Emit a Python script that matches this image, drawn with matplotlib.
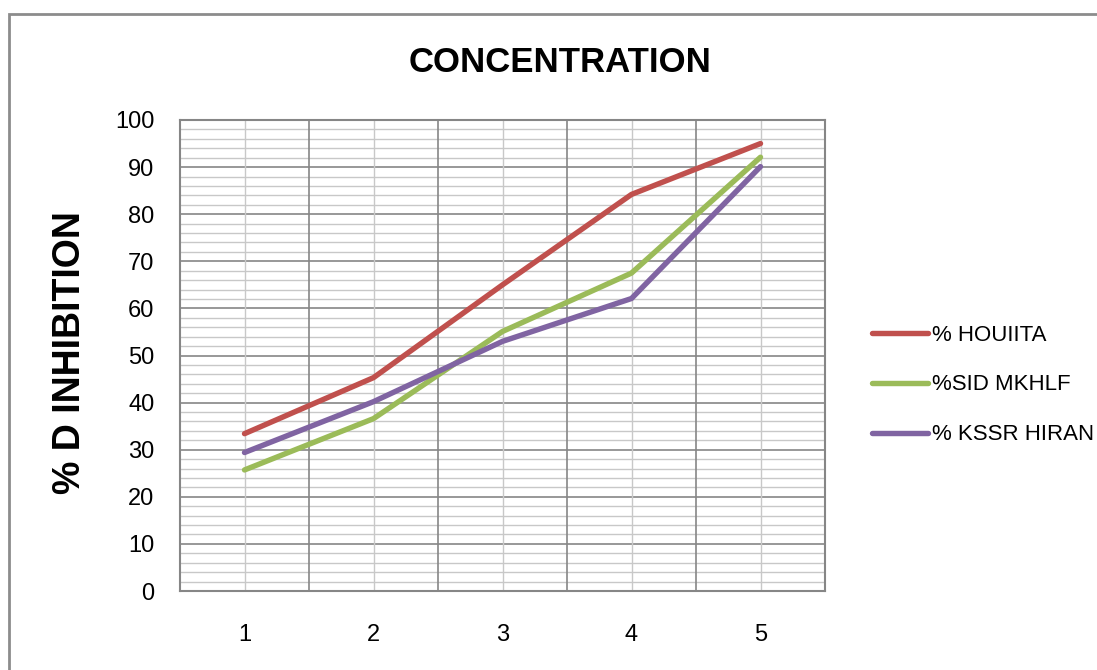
import numpy as np
import matplotlib
matplotlib.use('Agg')
import matplotlib.pyplot as plt
from matplotlib.patches import Rectangle

plt.rcParams['font.family'] = ['Liberation Sans', 'DejaVu Sans']

categories = ['1', '2', '3', '4', '5']
houiita = [33.4, 45.3, 65.0, 84.2, 95.0]
sid_mkhlf = [25.7, 36.6, 55.1, 67.5, 92.1]
kssr_hiran = [29.4, 40.2, 53.0, 62.1, 90.1]

series_names = ['% HOUIITA', '%SID MKHLF', '% KSSR HIRAN']
series_colors = ['#C0504D', '#9BBB59', '#8064A2']

W, H = 1097, 670
fig = plt.figure(figsize=(W / 100, H / 100), dpi=100)

# outer chart frame
fig.patches.append(Rectangle((9 / W, -0.05), 1.2, 1 - 14 / H + 0.05,
                             transform=fig.transFigure, fill=False,
                             edgecolor='#8c8c8c', linewidth=2.0))

ax = fig.add_axes([180 / W, 1 - 591 / H, 645 / W, 471 / H])

x = np.arange(len(categories))
for vals, name, col in zip([houiita, sid_mkhlf, kssr_hiran], series_names, series_colors):
    ax.plot(x, vals, color=col, linewidth=3.9, label=name, solid_capstyle='round')

ax.set_xlim(-0.5, len(categories) - 0.5)
ax.set_ylim(0, 100)

# grid: minor every 2 (light), major every 10 (dark)
for yv in np.arange(2, 100, 2):
    if yv % 10 == 0:
        ax.axhline(yv, color='#868686', linewidth=1.2, zorder=0)
    else:
        ax.axhline(yv, color='#c8c8c8', linewidth=1.0, zorder=0)
for xv in np.arange(0.5, len(categories) - 0.5, 1):
    ax.axvline(xv, color='#868686', linewidth=1.2, zorder=0)
for xv in x:
    ax.axvline(xv, color='#c8c8c8', linewidth=1.0, zorder=0)

for s in ax.spines.values():
    s.set_color('#868686')
    s.set_linewidth(1.5)

ax.set_yticks(np.arange(0, 101, 10))
ax.set_xticks(x)
ax.set_xticklabels(categories)
ax.tick_params(axis='both', length=0, labelsize=17)
ax.tick_params(axis='y', pad=18.5)
ax.tick_params(axis='x', pad=24)

fig.text(560 / W, 1 - 62 / H, 'CONCENTRATION', fontsize=25, fontweight='bold',
         ha='center', va='center')
fig.text(70 / W, 1 - 353 / H, '% D INHIBITION', fontsize=27, fontweight='bold',
         rotation=90, ha='center', va='center')

fig.legend(loc='center left', bbox_to_anchor=(872 / W, 1 - 385 / H),
           frameon=False, fontsize=16, handlelength=2.5, handletextpad=0.2,
           labelspacing=1.3, borderpad=0, borderaxespad=0)

fig.savefig('out.png', dpi=100, facecolor='white')
